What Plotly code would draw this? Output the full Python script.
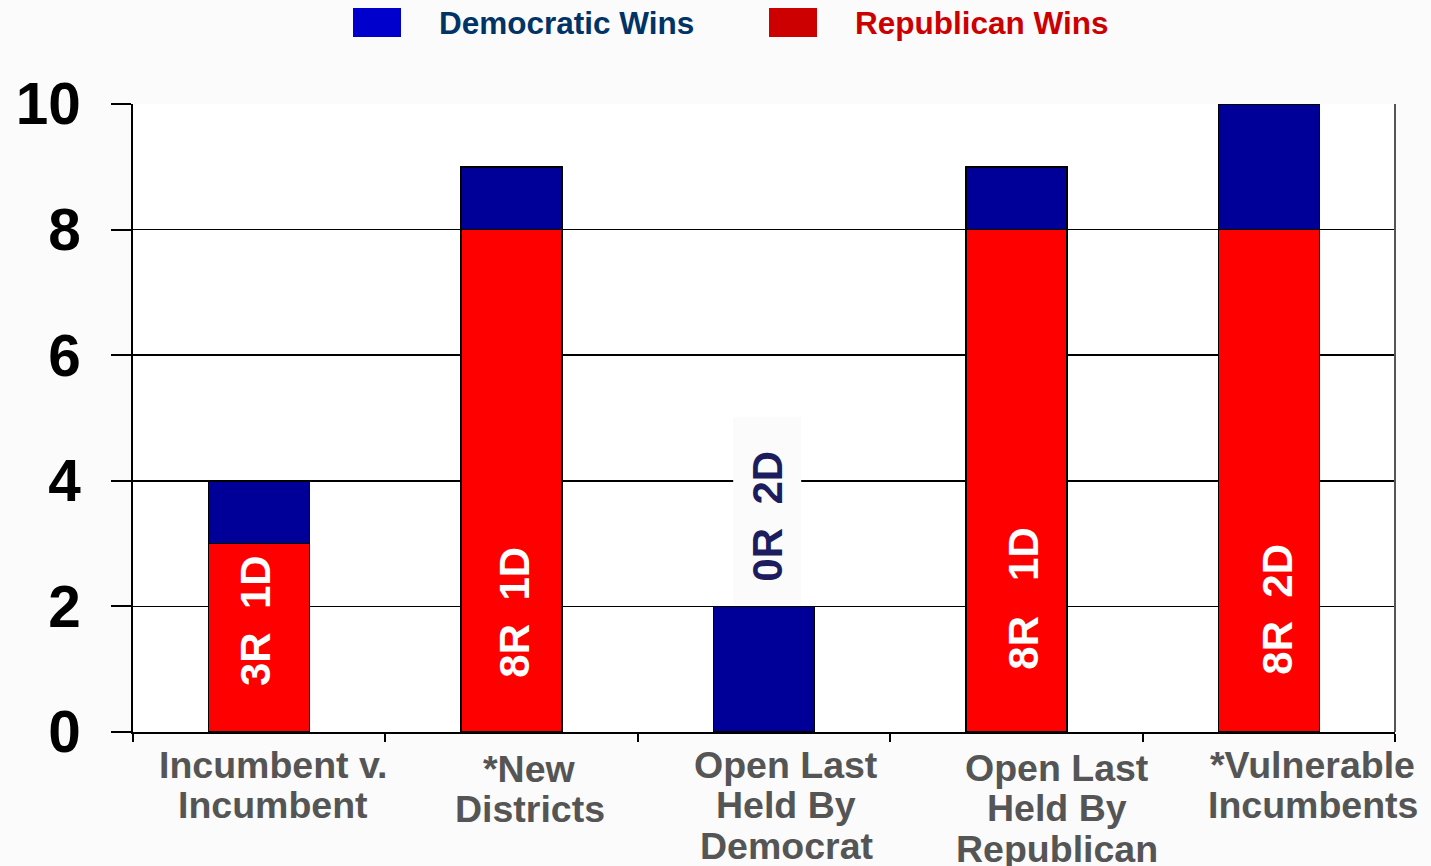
import plotly.graph_objects as go

# ---- data ----
CATEGORIES = [
    "Incumbent v.<br>Incumbent",
    "*New<br>Districts",
    "Open Last<br>Held By<br>Democrat",
    "Open Last<br>Held By<br>Republican",
    "*Vulnerable<br>Incumbents",
]
REPUBLICAN_WINS = [3, 8, 0, 8, 8]
DEMOCRATIC_WINS = [1, 1, 2, 1, 2]
BAR_LABELS = ["3R  1D", "8R  1D", "0R  2D", "8R   1D", "8R  2D"]
Y_TICKS = [0, 2, 4, 6, 8, 10]
LEGEND_NAMES = ["Democratic Wins", "Republican Wins"]

# ---- layout tweaks (not data) ----
LABEL_Y = [1.77, 1.91, 3.53, 2.13, 1.96]          # where the in-bar texts sit
LABEL_XSHIFT = [-3, 2, 3, 7, 9]
XLABEL_XSHIFT = [14, 18, 22, 41, 44]               # category label offsets (px)
XLABEL_YEXTRA = [0, 4, 0, 3, 0]

PAPER = "#fafbfa"
FONT = "Arial, Liberation Sans, sans-serif"
W, H = 1431, 866
L, R, T, B = 133, 36, 104, 134
NB = "\u00a0"

fig = go.Figure()
fig.add_trace(go.Bar(
    x=CATEGORIES, y=REPUBLICAN_WINS, name=LEGEND_NAMES[1],
    marker=dict(color="#ff0000", line=dict(color="black", width=1.5)),
    width=0.4, showlegend=False, hoverinfo="skip",
))
fig.add_trace(go.Bar(
    x=CATEGORIES, y=DEMOCRATIC_WINS, name=LEGEND_NAMES[0],
    marker=dict(color="#000099", line=dict(color="black", width=1.5)),
    width=0.4, showlegend=False, hoverinfo="skip",
))

annotations = []
# in-bar labels
for i, (cat, lab, yv) in enumerate(zip(CATEGORIES, BAR_LABELS, LABEL_Y)):
    on_bar = REPUBLICAN_WINS[i] > 0
    annotations.append(dict(
        x=cat, y=yv, xref="x", yref="y",
        text=(lab if on_bar else NB + lab + NB + NB),
        textangle=-90, showarrow=False, xshift=LABEL_XSHIFT[i],
        font=dict(family=FONT, size=42, weight="bold",
                  color="white" if on_bar else "#1c1c5e"),
        bgcolor=None if on_bar else PAPER, borderpad=0 if on_bar else 10,
    ))

# category labels, line by line
for i, cat in enumerate(CATEGORIES):
    for j, line in enumerate(cat.split("<br>")):
        annotations.append(dict(
            x=cat, y=0, xref="x", yref="y", text=line, showarrow=False,
            xanchor="center", yanchor="middle",
            xshift=XLABEL_XSHIFT[i], yshift=-(32.5 + 40.5 * j + XLABEL_YEXTRA[i]),
            font=dict(family=FONT, size=37.5, weight="bold", color="#555555"),
        ))

# legend (drawn manually to match the large swatches)
def px_x(p):
    return (p - L) / (W - L - R)

def px_y(p):
    return (H - B - p) / (H - T - B)

shapes = [
    dict(type="rect", xref="paper", yref="paper", x0=px_x(353), x1=px_x(401),
         y0=px_y(37), y1=px_y(8), fillcolor="#0000cc", line=dict(width=0)),
    dict(type="rect", xref="paper", yref="paper", x0=px_x(769), x1=px_x(817),
         y0=px_y(37), y1=px_y(8), fillcolor="#cc0000", line=dict(width=0)),
    dict(type="line", xref="paper", yref="paper", x0=1, x1=1, y0=0, y1=1,
         line=dict(color="#555555", width=2)),
]
annotations.append(dict(x=px_x(437), y=px_y(22.5), xref="paper", yref="paper",
                        text=LEGEND_NAMES[0], showarrow=False, xanchor="left", yanchor="middle",
                        font=dict(family=FONT, size=31.5, weight="bold", color="#003366")))
annotations.append(dict(x=px_x(853), y=px_y(22.5), xref="paper", yref="paper",
                        text=LEGEND_NAMES[1], showarrow=False, xanchor="left", yanchor="middle",
                        font=dict(family=FONT, size=31.5, weight="bold", color="#cc0000")))

fig.update_layout(
    width=W, height=H, autosize=False,
    margin=dict(l=L, r=R, t=T, b=B, pad=0, autoexpand=False),
    paper_bgcolor=PAPER, plot_bgcolor="white",
    barmode="stack",
    showlegend=False, hovermode=False,
    annotations=annotations, shapes=shapes,
    xaxis=dict(
        type="category", range=[-0.5, 4.5], automargin=False,
        showgrid=False, showticklabels=False,
        tickson="boundaries", ticks="outside", ticklen=8, tickwidth=2, tickcolor="black",
        showline=True, linecolor="black", linewidth=2, zeroline=False,
    ),
    yaxis=dict(
        range=[0, 10], automargin=False,
        tickmode="array", tickvals=Y_TICKS, ticktext=[str(v) for v in Y_TICKS],
        showgrid=True, gridcolor="black", gridwidth=1.5,
        ticks="outside", ticklen=20, tickwidth=2, tickcolor="black",
        showline=True, linecolor="black", linewidth=2.5, zeroline=False,
        ticklabelstandoff=18,
        tickfont=dict(family=FONT, size=58.5, weight="bold", color="black"),
    ),
)

fig.write_html(
    "out.html",
    config={"displayModeBar": False, "staticPlot": True},
    post_script="document.body.style.margin='0';document.body.style.padding='0';"
                "document.body.style.overflow='hidden';",
)
